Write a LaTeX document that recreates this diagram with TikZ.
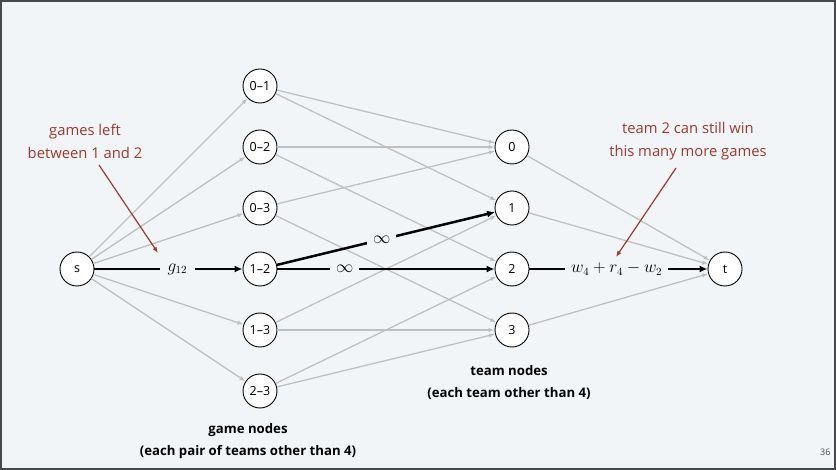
\documentclass[tikz,border=0pt]{standalone}
\usepackage[no-math]{fontspec}
\setmainfont{Open Sans}
\usetikzlibrary{arrows.meta}
\definecolor{bg}{RGB}{242,245,248}
\definecolor{edgegray}{RGB}{192,192,192}
\definecolor{annot}{RGB}{155,58,48}
\definecolor{framec}{RGB}{70,72,76}
\begin{document}
\begin{tikzpicture}[x=1pt,y=-1pt,
  vert/.style={circle,draw,line width=0.9pt,fill=white,minimum size=34pt,inner sep=0pt,font=\fontsize{12.5}{14}\selectfont},
  gedge/.style={draw=edgegray,line width=1.3pt,-{Latex[length=6pt,width=4.5pt]}},
  bedge/.style={draw=black,line width=2.5pt,-{Latex[length=8pt,width=7pt]}},
  elab/.style={fill=bg,inner xsep=6pt,inner ysep=3pt,font=\fontsize{16}{18}\selectfont},
  note/.style={align=center,text=annot,font=\fontsize{14.8}{23}\selectfont},
  notearrow/.style={draw=annot,line width=1.2pt,-{Latex[length=6pt,width=4.5pt]}},
  caption/.style={align=center,font=\fontsize{13.2}{22}\selectfont\bfseries}]
\fill[bg] (0,0) rectangle (836,470);
\draw[framec,line width=1.5pt] (1,1) rectangle (835,469);
\useasboundingbox (0,0) rectangle (836,470);

% nodes
\node[vert] (s) at (77,269) {s};
\node[vert] (g01) at (260,86) {0–1};
\node[vert] (g02) at (260,147) {0–2};
\node[vert] (g03) at (260,208) {0–3};
\node[vert] (g12) at (260,269) {1–2};
\node[vert] (g13) at (260,330) {1–3};
\node[vert] (g23) at (260,391) {2–3};
\node[vert] (t0) at (512,147) {0};
\node[vert] (t1) at (512,208) {1};
\node[vert] (t2) at (512,269) {2};
\node[vert] (t3) at (512,330) {3};
\node[vert] (t) at (725,269) {t};

% gray edges
\foreach \a/\b in {s/g01,s/g02,s/g03,s/g13,s/g23,
  g01/t0,g01/t1,g02/t0,g02/t2,g03/t0,g03/t3,g13/t1,g13/t3,g23/t2,g23/t3,
  t0/t,t1/t,t3/t}
  \draw[gedge] (\a) -- (\b);

% black edges
\draw[bedge] (s) -- node[elab,pos=0.56,inner xsep=8pt] {$g_{12}$} (g12);
\draw[bedge] (g12) -- node[elab,pos=0.48] {$\infty$} (t1);
\draw[bedge] (g12) -- node[elab,pos=0.31] {$\infty$} (t2);
\draw[bedge] (t2) -- node[elab,pos=0.49] {$w_4+r_4-w_2$} (t);

% annotations
\node[note] (n1) at (85,141) {games left\\between 1 and 2};
\coordinate (n1s) at (99,165);
\coordinate (n1e) at (158,253);
\draw[notearrow] (n1s) -- (n1e);
\node[note] (n2) at (688,141) {team 2 can still win\\this many more games};
\coordinate (n2s) at (676,168);
\coordinate (n2e) at (616,257);
\draw[notearrow] (n2s) -- (n2e);

% captions
\node[caption] (c1) at (248,441) {game nodes\\(each pair of teams other than 4)};
\node[caption] (c2) at (509,383) {team nodes\\(each team other than 4)};
\node[font=\fontsize{9}{10}\selectfont,text=framec,anchor=east] (pg) at (834,452) {36};
\end{tikzpicture}
\end{document}
